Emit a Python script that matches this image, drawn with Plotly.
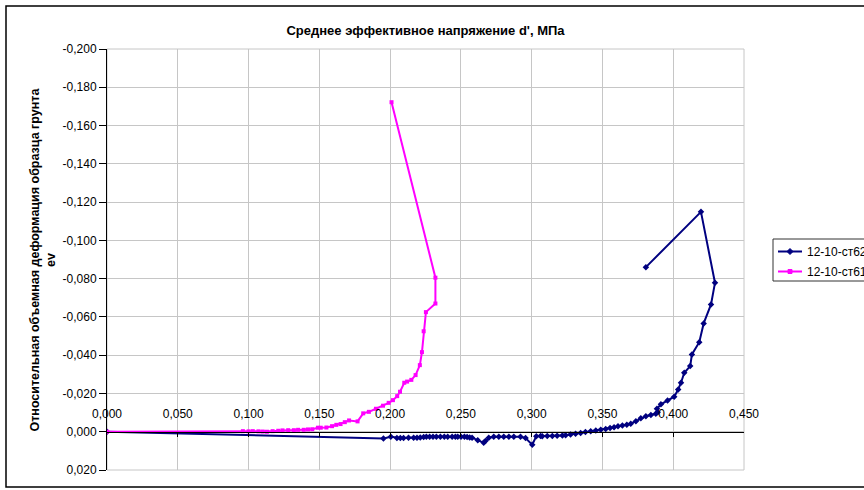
import plotly.graph_objects as go

# Mean effective stress p', MPa  vs  volumetric strain ev
ST62_P = [0.000, 0.1953, 0.2005, 0.2048, 0.2072, 0.2095, 0.2130, 0.2166, 0.2190, 0.2213,
          0.2237, 0.2256, 0.2279, 0.2303, 0.2327, 0.2355, 0.2383, 0.2407, 0.2438, 0.2461,
          0.2478, 0.2501, 0.2525, 0.2544, 0.2562, 0.2579, 0.2619, 0.2661, 0.2673, 0.2697,
          0.2732, 0.2768, 0.2803, 0.2839, 0.2874, 0.2921, 0.2957, 0.3004, 0.3033, 0.3063,
          0.3075, 0.3110, 0.3146, 0.3180, 0.3217, 0.3240, 0.3275, 0.3310, 0.3346, 0.3380,
          0.3417, 0.3453, 0.3488, 0.3523, 0.3554, 0.3582, 0.3610, 0.3641, 0.3672, 0.3700,
          0.3736, 0.3771, 0.3807, 0.3842, 0.3877, 0.3890, 0.3885, 0.3913, 0.3960, 0.4007,
          0.4035, 0.4055, 0.4078, 0.4120, 0.4132, 0.4184, 0.4215, 0.4267, 0.4295, 0.4196,
          0.3807]
ST62_EV = [0.0000, 0.0035, 0.0026, 0.0033, 0.0033, 0.0033, 0.0031, 0.0031, 0.0031, 0.0030,
           0.0028, 0.0026, 0.0026, 0.0026, 0.0026, 0.0026, 0.0026, 0.0026, 0.0026, 0.0026,
           0.0026, 0.0026, 0.0026, 0.0028, 0.0030, 0.0031, 0.0044, 0.0058, 0.0049, 0.0031,
           0.0026, 0.0026, 0.0026, 0.0026, 0.0026, 0.0026, 0.0033, 0.0068, 0.0023, 0.0022,
           0.0023, 0.0022, 0.0022, 0.0021, 0.0020, 0.0018, 0.0014, 0.0011, 0.0007, 0.0002,
           -0.0003, -0.0007, -0.0010, -0.0014, -0.0019, -0.0024, -0.0028, -0.0033, -0.0036, -0.0042,
           -0.0055, -0.0070, -0.0081, -0.0088, -0.0094, -0.0102, -0.0120, -0.0143, -0.0163, -0.0183,
           -0.0221, -0.0256, -0.0308, -0.0343, -0.0404, -0.0468, -0.0566, -0.0665, -0.0778, -0.1149,
           -0.0860]

ST61_P = [0.000, 0.096, 0.100, 0.103, 0.107, 0.110, 0.113, 0.117, 0.121, 0.124,
          0.128, 0.132, 0.135, 0.139, 0.142, 0.145, 0.149, 0.151, 0.155, 0.159,
          0.162, 0.165, 0.168, 0.171, 0.177, 0.181, 0.185, 0.190, 0.195, 0.199,
          0.202, 0.205, 0.207, 0.210, 0.212, 0.215, 0.218, 0.221, 0.2225, 0.2237,
          0.2253, 0.232, 0.232, 0.201]
ST61_EV = [0.0000, -0.0003, -0.0002, -0.0003, -0.0002, -0.0001, 0.0000, -0.0003, -0.0005, -0.0007,
           -0.0008, -0.0008, -0.0010, -0.0010, -0.0012, -0.0013, -0.0021, -0.0021, -0.0022, -0.0029,
           -0.0036, -0.0040, -0.0050, -0.0059, -0.0054, -0.0096, -0.0104, -0.0120, -0.0136, -0.0151,
           -0.0165, -0.0186, -0.0209, -0.0256, -0.0262, -0.0271, -0.0296, -0.0348, -0.0416, -0.0525,
           -0.0625, -0.0670, -0.0805, -0.1722]

SERIES_NAMES = ["12-10-ст62", "12-10-ст61"]

X_TICKS = [0.00, 0.05, 0.10, 0.15, 0.20, 0.25, 0.30, 0.35, 0.40, 0.45]
X_TICK_LABELS = ["0,000", "0,050", "0,100", "0,150", "0,200", "0,250", "0,300", "0,350", "0,400", "0,450"]
Y_TICKS = [-0.20, -0.18, -0.16, -0.14, -0.12, -0.10, -0.08, -0.06, -0.04, -0.02, 0.00, 0.02]
Y_TICK_LABELS = ["-0,200", "-0,180", "-0,160", "-0,140", "-0,120", "-0,100", "-0,080",
                 "-0,060", "-0,040", "-0,020", "0,000", "0,020"]

TITLE = "Среднее эффективное напряжение d', МПа"
Y_TITLE = "Относительная объемная деформация образца грунта<br>ev"

NAVY = "#000080"
MAGENTA = "#FF00FF"
GRID = "#c6c6c6"
FONT = "Arial, Liberation Sans, sans-serif"

W, H = 864, 490
L, R, T, B = 107, 120, 49, 20
PW, PH = W - L - R, H - T - B


def px_x(px):
    return (px - L) / PW


def px_y(py):
    return (H - B - py) / PH


fig = go.Figure()
fig.add_trace(go.Scatter(x=ST62_P, y=ST62_EV, mode="lines+markers", name=SERIES_NAMES[0],
                         line=dict(color=NAVY, width=2),
                         marker=dict(symbol="diamond", size=5, color=NAVY)))
fig.add_trace(go.Scatter(x=ST61_P, y=ST61_EV, mode="lines+markers", name=SERIES_NAMES[1],
                         line=dict(color=MAGENTA, width=2),
                         marker=dict(symbol="square", size=4, color=MAGENTA)))

y_lo, y_hi = Y_TICKS[-1], Y_TICKS[0]
fig.update_layout(
    width=W, height=H,
    margin=dict(l=L, r=R, t=T, b=B, pad=0),
    paper_bgcolor="white", plot_bgcolor="white",
    showlegend=False,
    font=dict(family=FONT, size=12, color="black"),
    title=dict(text="<b>" + TITLE + "</b>", x=0.5, xref="paper", xanchor="center",
               y=1 - 30 / H, yanchor="middle", font=dict(size=13, family=FONT, color="black")),
    xaxis=dict(range=[0, 0.45], tickvals=X_TICKS, ticktext=X_TICK_LABELS,
               showgrid=True, gridcolor=GRID, gridwidth=1, zeroline=False,
               showline=True, linecolor="black", linewidth=1,
               anchor="free", position=y_lo / (y_lo - y_hi), side="top",
               ticks="inside", ticklen=4, tickcolor="black",
               ticklabelstandoff=9, tickfont=dict(size=12, color="black")),
    yaxis=dict(range=[y_lo, y_hi], tickvals=Y_TICKS, ticktext=Y_TICK_LABELS,
               showgrid=True, gridcolor=GRID, gridwidth=1, zeroline=False,
               showline=True, linecolor="black", linewidth=1,
               ticks="outside", ticklen=7, tickcolor="black",
               tickfont=dict(size=12, color="black")),
)

shapes = [
    # plot-area frame
    dict(type="rect", xref="paper", yref="paper", x0=0, x1=1, y0=0, y1=1,
         line=dict(color=GRID, width=1), layer="below"),
    # chart border
    dict(type="rect", xref="paper", yref="paper", x0=px_x(6), x1=px_x(910),
         y0=px_y(487), y1=px_y(6), line=dict(color="black", width=1.5)),
    # legend box
    dict(type="rect", xref="paper", yref="paper", x0=px_x(773), x1=px_x(910),
         y0=px_y(281), y1=px_y(239), line=dict(color="#333333", width=1)),
]
annotations = [
    dict(text="<b>" + Y_TITLE + "</b>", textangle=-90, xref="paper", yref="paper",
         x=px_x(42), y=0.5, xanchor="center", yanchor="middle", showarrow=False,
         font=dict(size=12.5, family=FONT, color="black")),
]

legend_rows = [(251.5, NAVY, "diamond"), (271.5, MAGENTA, "square")]
for (row_y, color, sym), name in zip(legend_rows, SERIES_NAMES):
    shapes.append(dict(type="line", xref="paper", yref="paper",
                       x0=px_x(778), x1=px_x(802), y0=px_y(row_y), y1=px_y(row_y),
                       line=dict(color=color, width=2)))
    cx, cy = 790, row_y
    if sym == "diamond":
        path = "M {} {} L {} {} L {} {} L {} {} Z".format(
            px_x(cx - 3), px_y(cy), px_x(cx), px_y(cy - 3),
            px_x(cx + 3), px_y(cy), px_x(cx), px_y(cy + 3))
    else:
        path = "M {} {} L {} {} L {} {} L {} {} Z".format(
            px_x(cx - 2), px_y(cy - 2), px_x(cx + 2), px_y(cy - 2),
            px_x(cx + 2), px_y(cy + 2), px_x(cx - 2), px_y(cy + 2))
    shapes.append(dict(type="path", xref="paper", yref="paper", path=path,
                       fillcolor=color, line=dict(color=color, width=1)))
    annotations.append(dict(text=name, xref="paper", yref="paper",
                            x=px_x(805), y=px_y(row_y), xanchor="left", yanchor="middle",
                            showarrow=False, font=dict(size=12, family=FONT, color="black")))

fig.update_layout(shapes=shapes, annotations=annotations)

fig.write_html("out.html")
